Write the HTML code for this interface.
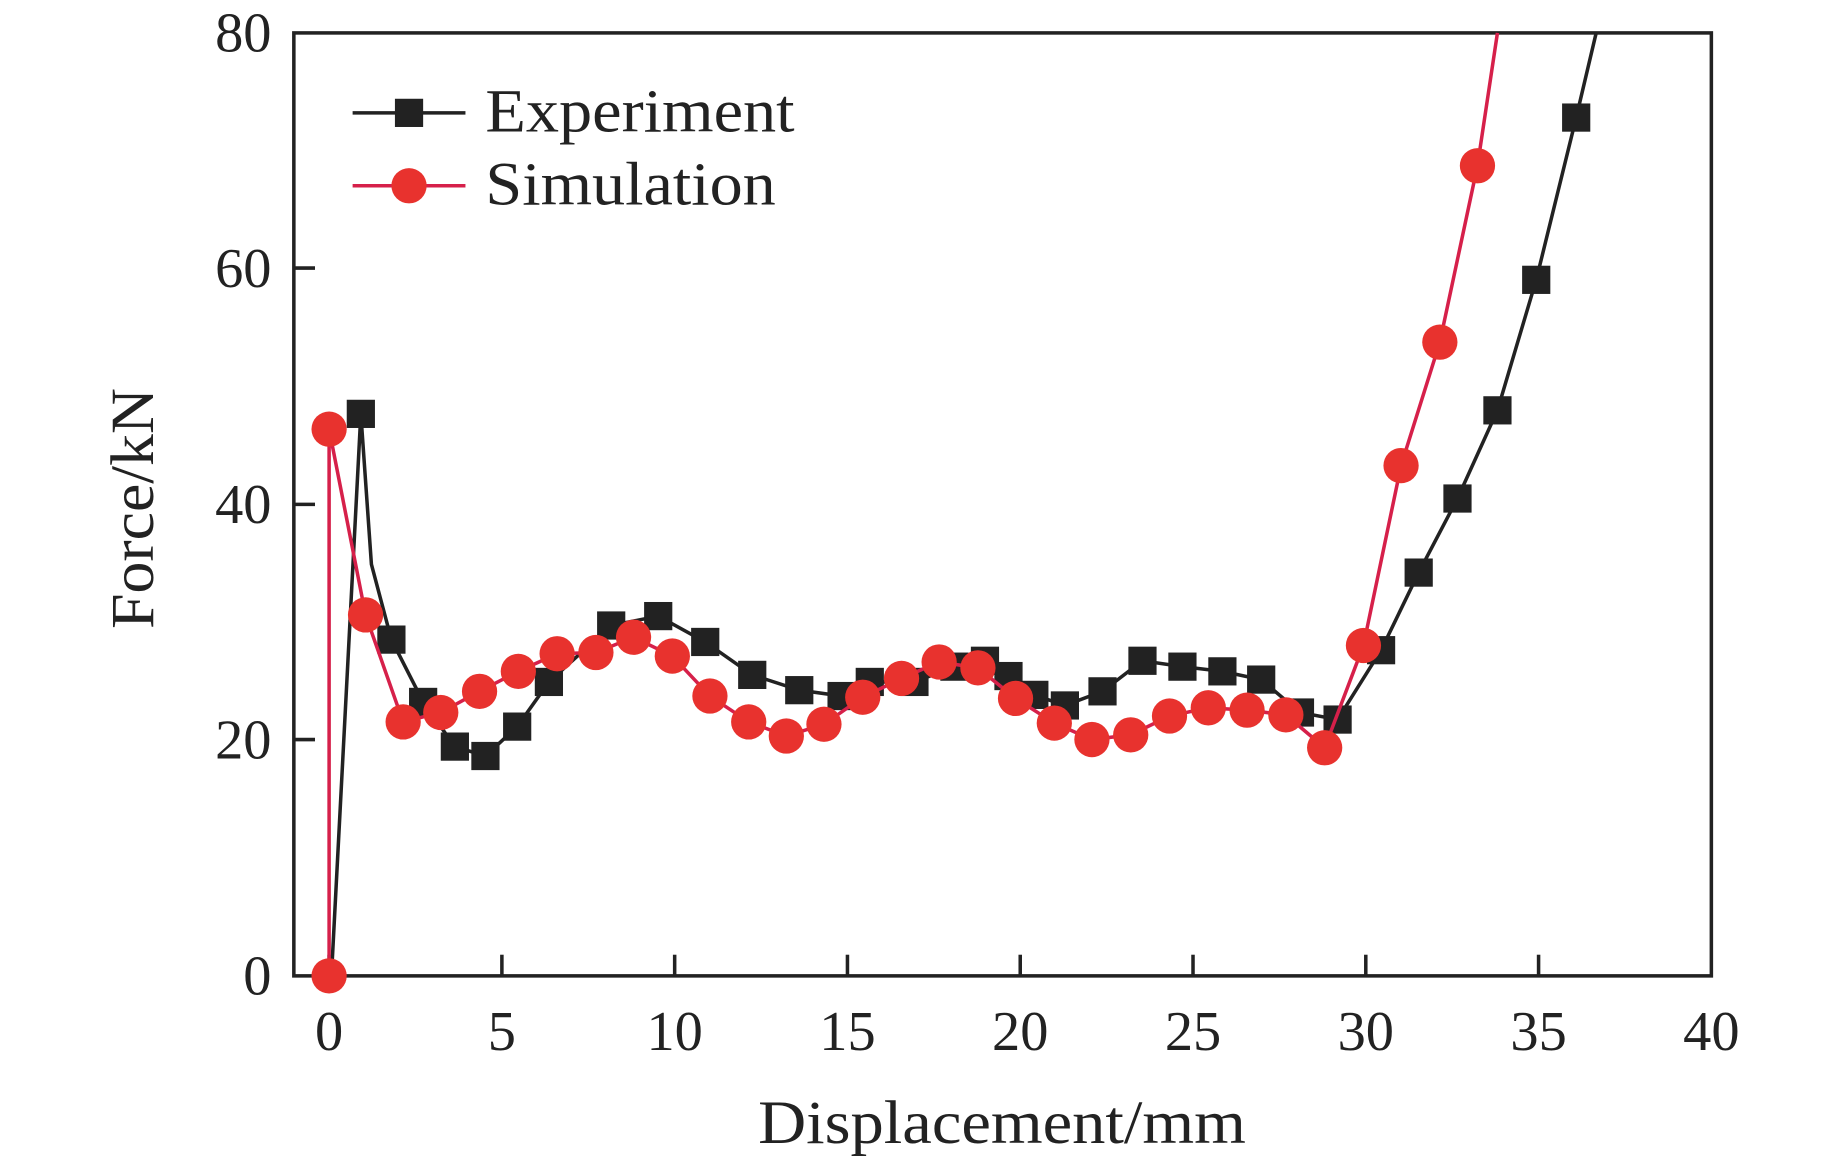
<!DOCTYPE html>
<html><head><meta charset="utf-8"><style>html,body{margin:0;padding:0;background:#fff}svg{display:block}</style></head>
<body>
<svg width="1843" height="1164" viewBox="0 0 1568 990" preserveAspectRatio="none" xmlns="http://www.w3.org/2000/svg" font-family="'Liberation Serif',serif" fill="#222">
<rect x="250" y="28" width="1206" height="802" fill="none" stroke="#222" stroke-width="3"/>
<g stroke="#222" stroke-width="3">
<line x1="280" y1="830" x2="280" y2="812"/><line x1="427" y1="830" x2="427" y2="812"/><line x1="574" y1="830" x2="574" y2="812"/><line x1="721" y1="830" x2="721" y2="812"/><line x1="868" y1="830" x2="868" y2="812"/><line x1="1015" y1="830" x2="1015" y2="812"/><line x1="1162" y1="830" x2="1162" y2="812"/><line x1="1309" y1="830" x2="1309" y2="812"/>
<line x1="250" y1="629" x2="268" y2="629"/><line x1="250" y1="429" x2="268" y2="429"/><line x1="250" y1="228" x2="268" y2="228"/>
</g>
<g font-size="48" text-anchor="middle">
<text x="280" y="893">0</text><text x="427" y="893">5</text><text x="574" y="893">10</text><text x="721" y="893">15</text><text x="868" y="893">20</text><text x="1015" y="893">25</text><text x="1162" y="893">30</text><text x="1309" y="893">35</text><text x="1456" y="893">40</text>
</g>
<g font-size="48" text-anchor="end">
<text x="231" y="846">0</text><text x="231" y="645">20</text><text x="231" y="445">40</text><text x="231" y="244">60</text><text x="231" y="44">80</text>
</g>
<text x="645" y="972" font-size="52" textLength="415" lengthAdjust="spacingAndGlyphs">Displacement/mm</text>
<text transform="translate(130,535) rotate(-90)" font-size="52" textLength="205" lengthAdjust="spacingAndGlyphs">Force/kN</text>
<polyline fill="none" stroke="#222" stroke-width="3" points="282,830 307,352 316,480 333,544 360,597 387,635 413,643 440,618 467,580 520,532 560,524 600,546 640,574 680,587 716,592 740,580 778,580 812,567 838,562 858,575 880,591 906,600 938,588 972,562 1006,567 1040,571 1073,578 1106,606 1138,612 1175,553 1207,487 1240,424 1274,349 1307,238 1341,100 1358,28"/>
<g fill="#222">
<rect x="295" y="340" width="24" height="24"/><rect x="321" y="532" width="24" height="24"/><rect x="348" y="585" width="24" height="24"/><rect x="375" y="623" width="24" height="24"/><rect x="401" y="631" width="24" height="24"/><rect x="428" y="606" width="24" height="24"/><rect x="455" y="568" width="24" height="24"/><rect x="508" y="520" width="24" height="24"/><rect x="548" y="512" width="24" height="24"/><rect x="588" y="534" width="24" height="24"/><rect x="628" y="562" width="24" height="24"/><rect x="668" y="575" width="24" height="24"/><rect x="704" y="580" width="24" height="24"/><rect x="728" y="568" width="24" height="24"/><rect x="766" y="568" width="24" height="24"/><rect x="800" y="555" width="24" height="24"/><rect x="826" y="550" width="24" height="24"/><rect x="846" y="563" width="24" height="24"/><rect x="868" y="579" width="24" height="24"/><rect x="894" y="588" width="24" height="24"/><rect x="926" y="576" width="24" height="24"/><rect x="960" y="550" width="24" height="24"/><rect x="994" y="555" width="24" height="24"/><rect x="1028" y="559" width="24" height="24"/><rect x="1061" y="566" width="24" height="24"/><rect x="1094" y="594" width="24" height="24"/><rect x="1126" y="600" width="24" height="24"/><rect x="1163" y="541" width="24" height="24"/><rect x="1195" y="475" width="24" height="24"/><rect x="1228" y="412" width="24" height="24"/><rect x="1262" y="337" width="24" height="24"/><rect x="1295" y="226" width="24" height="24"/><rect x="1329" y="88" width="24" height="24"/>
</g>
<polyline fill="none" stroke="#d6204a" stroke-width="3" points="280,830 280,365 311,523 343,614 375,606 408,588 441,571 474,556 507,555 539,542 572,558 604,592 637,614 669,626 701,616 734,593 767,577 799,563 832,568 864,594 897,615 929,629 962,625 995,609 1028,602 1061,604 1094,608 1127,636 1160,549 1192,396 1225,291 1257,141 1274,28"/>
<g fill="#e8322e">
<circle cx="280" cy="830" r="15"/><circle cx="280" cy="365" r="15"/><circle cx="311" cy="523" r="15"/><circle cx="343" cy="614" r="15"/><circle cx="375" cy="606" r="15"/><circle cx="408" cy="588" r="15"/><circle cx="441" cy="571" r="15"/><circle cx="474" cy="556" r="15"/><circle cx="507" cy="555" r="15"/><circle cx="539" cy="542" r="15"/><circle cx="572" cy="558" r="15"/><circle cx="604" cy="592" r="15"/><circle cx="637" cy="614" r="15"/><circle cx="669" cy="626" r="15"/><circle cx="701" cy="616" r="15"/><circle cx="734" cy="593" r="15"/><circle cx="767" cy="577" r="15"/><circle cx="799" cy="563" r="15"/><circle cx="832" cy="568" r="15"/><circle cx="864" cy="594" r="15"/><circle cx="897" cy="615" r="15"/><circle cx="929" cy="629" r="15"/><circle cx="962" cy="625" r="15"/><circle cx="995" cy="609" r="15"/><circle cx="1028" cy="602" r="15"/><circle cx="1061" cy="604" r="15"/><circle cx="1094" cy="608" r="15"/><circle cx="1127" cy="636" r="15"/><circle cx="1160" cy="549" r="15"/><circle cx="1192" cy="396" r="15"/><circle cx="1225" cy="291" r="15"/><circle cx="1257" cy="141" r="15"/>
</g>
<line x1="300" y1="96" x2="396" y2="96" stroke="#222" stroke-width="3"/>
<rect x="336" y="84" width="24" height="24" fill="#222"/>
<line x1="300" y1="158" x2="396" y2="158" stroke="#d6204a" stroke-width="3"/>
<circle cx="348" cy="158" r="15" fill="#e8322e"/>
<text x="413" y="112" font-size="52" textLength="263" lengthAdjust="spacingAndGlyphs">Experiment</text>
<text x="413" y="174" font-size="52" textLength="247" lengthAdjust="spacingAndGlyphs">Simulation</text>
</svg>
</body></html>
